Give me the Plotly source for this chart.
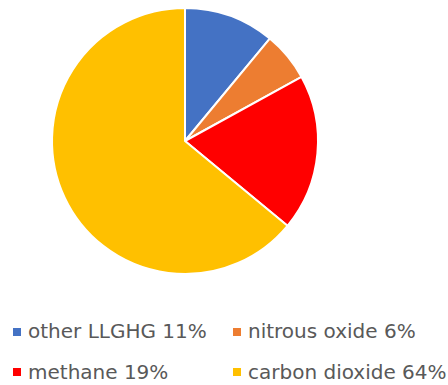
import plotly.graph_objects as go

labels = ["other LLGHG", "nitrous oxide", "methane", "carbon dioxide"]
values = [11, 6, 19, 64]
colors = ["#4472C4", "#ED7D31", "#FF0000", "#FFC000"]

W, H = 448, 385
fig = go.Figure()
fig.add_trace(go.Pie(
    labels=labels, values=values, sort=False, direction="clockwise", rotation=0,
    marker=dict(colors=colors, line=dict(color="white", width=2)),
    textinfo="none", hoverinfo="label+percent", showlegend=False,
    domain=dict(x=[52 / W, 318 / W], y=[1 - 274 / H, 1 - 8 / H]),
))

# custom legend (2 columns x 2 rows)
col_marker_x = [13, 233]
col_text_x = [27, 247]
row_text_y = [331, 372]
row_marker_y = [328, 368]
shapes, annotations = [], []
for i, (lab, val, col) in enumerate(zip(labels, values, colors)):
    r, c = divmod(i, 2)
    mx, my = col_marker_x[c], row_marker_y[r]
    shapes.append(dict(type="rect", xref="paper", yref="paper",
                       x0=mx / W, x1=(mx + 8) / W, y0=1 - (my + 8) / H, y1=1 - my / H,
                       fillcolor=col, line=dict(width=0)))
    annotations.append(dict(text=f"{lab} {val}%", xref="paper", yref="paper",
                            x=col_text_x[c] / W, y=1 - row_text_y[r] / H,
                            xanchor="left", yanchor="middle", showarrow=False, borderpad=0,
                            font=dict(family="DejaVu Sans", size=20, color="#595959")))

fig.update_layout(width=W, height=H, margin=dict(l=0, r=0, t=0, b=0),
                  paper_bgcolor="white", plot_bgcolor="white",
                  shapes=shapes, annotations=annotations)
fig.write_html("out.html")
